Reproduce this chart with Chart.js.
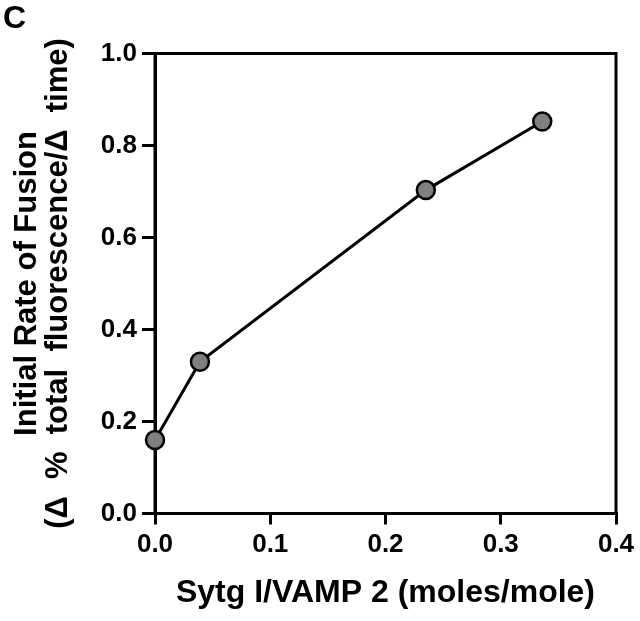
<!DOCTYPE html>
<html>
<head>
<meta charset="utf-8">
<script src="https://cdn.jsdelivr.net/npm/chart.js@4"></script>
<style>
  body { margin: 0; background: #fff; }
  #wrap { position: relative; width: 640px; height: 621px; }
  #panel {
    position: absolute; left: 3px; top: -1px;
    font: bold 32px "Liberation Sans", Arial, sans-serif; color: #000;
  }
</style>
</head>
<body>
<div id="wrap">
  <canvas id="fusion-chart" width="640" height="621"></canvas>
  <div id="panel">C</div>
</div>
<script>
const ctx = document.getElementById('fusion-chart').getContext('2d');

const sytgVamp = [0, 0.039, 0.235, 0.336];
const fusionRate = [0.16, 0.33, 0.703, 0.852];

const xTitle = 'Sytg I/VAMP 2 (moles/mole)';
const yTitle = ['Initial Rate of Fusion', '(\u0394  %  total  fluorescence/\u0394  time)'];

const fontFamily = '"Liberation Sans", Arial, sans-serif';

// draws the box round the plot (under the points)
const frame = {
    id: 'frame',
    beforeDatasetsDraw(chart) {
        const a = chart.chartArea;
        const c = chart.ctx;
        c.save();
        c.strokeStyle = '#000';
        c.lineWidth = 3;
        c.strokeRect(a.left, a.top, a.right - a.left, a.bottom - a.top);
        c.restore();
    }
};

const myChart = new Chart(ctx, {
    type: 'scatter',
    data: {
        datasets: [{
            data: sytgVamp.map((x, i) => ({ x: x, y: fusionRate[i] })),
            showLine: true,
            borderColor: '#000',
            borderWidth: 3,
            pointRadius: 9,
            pointHoverRadius: 9,
            pointBackgroundColor: '#808080',
            pointBorderColor: '#000',
            pointBorderWidth: 2.5,
            clip: false
        }]
    },
    options: {
        responsive: false,
        animation: false,
        layout: {
            padding: { left: 0, top: 53.5, right: 24, bottom: 0 }
        },
        scales: {
            x: {
                type: 'linear',
                min: 0,
                max: 0.4,
                afterFit: s => { s.height = 107.5; },
                grid: {
                    drawOnChartArea: false,
                    drawTicks: true,
                    tickLength: 11,
                    color: '#000',
                    lineWidth: 3
                },
                border: { display: true, color: '#000', width: 3 },
                ticks: {
                    stepSize: 0.1,
                    padding: 5,
                    color: '#000',
                    font: { family: fontFamily, size: 26, weight: 'bold' },
                    callback: v => v.toFixed(1)
                },
                title: {
                    display: true,
                    text: xTitle,
                    color: '#000',
                    padding: { top: 0, bottom: 12 },
                    font: { family: fontFamily, size: 32, weight: 'bold', lineHeight: 1.0 }
                }
            },
            y: {
                min: 0,
                max: 1,
                afterFit: s => { s.width = 155; },
                grid: {
                    drawOnChartArea: false,
                    drawTicks: true,
                    tickLength: 13,
                    color: '#000',
                    lineWidth: 3
                },
                border: { display: true, color: '#000', width: 3 },
                ticks: {
                    stepSize: 0.2,
                    padding: 5,
                    color: '#000',
                    font: { family: fontFamily, size: 26, weight: 'bold' },
                    callback: v => v.toFixed(1)
                },
                title: {
                    display: true,
                    text: yTitle,
                    color: '#000',
                    padding: { top: 12, bottom: 0 },
                    font: { family: fontFamily, size: 31, weight: 'bold', lineHeight: 1.0 }
                }
            }
        },
        plugins: {
            legend: { display: false },
            tooltip: { enabled: false }
        }
    },
    plugins: [frame]
});
</script>
</body>
</html>
